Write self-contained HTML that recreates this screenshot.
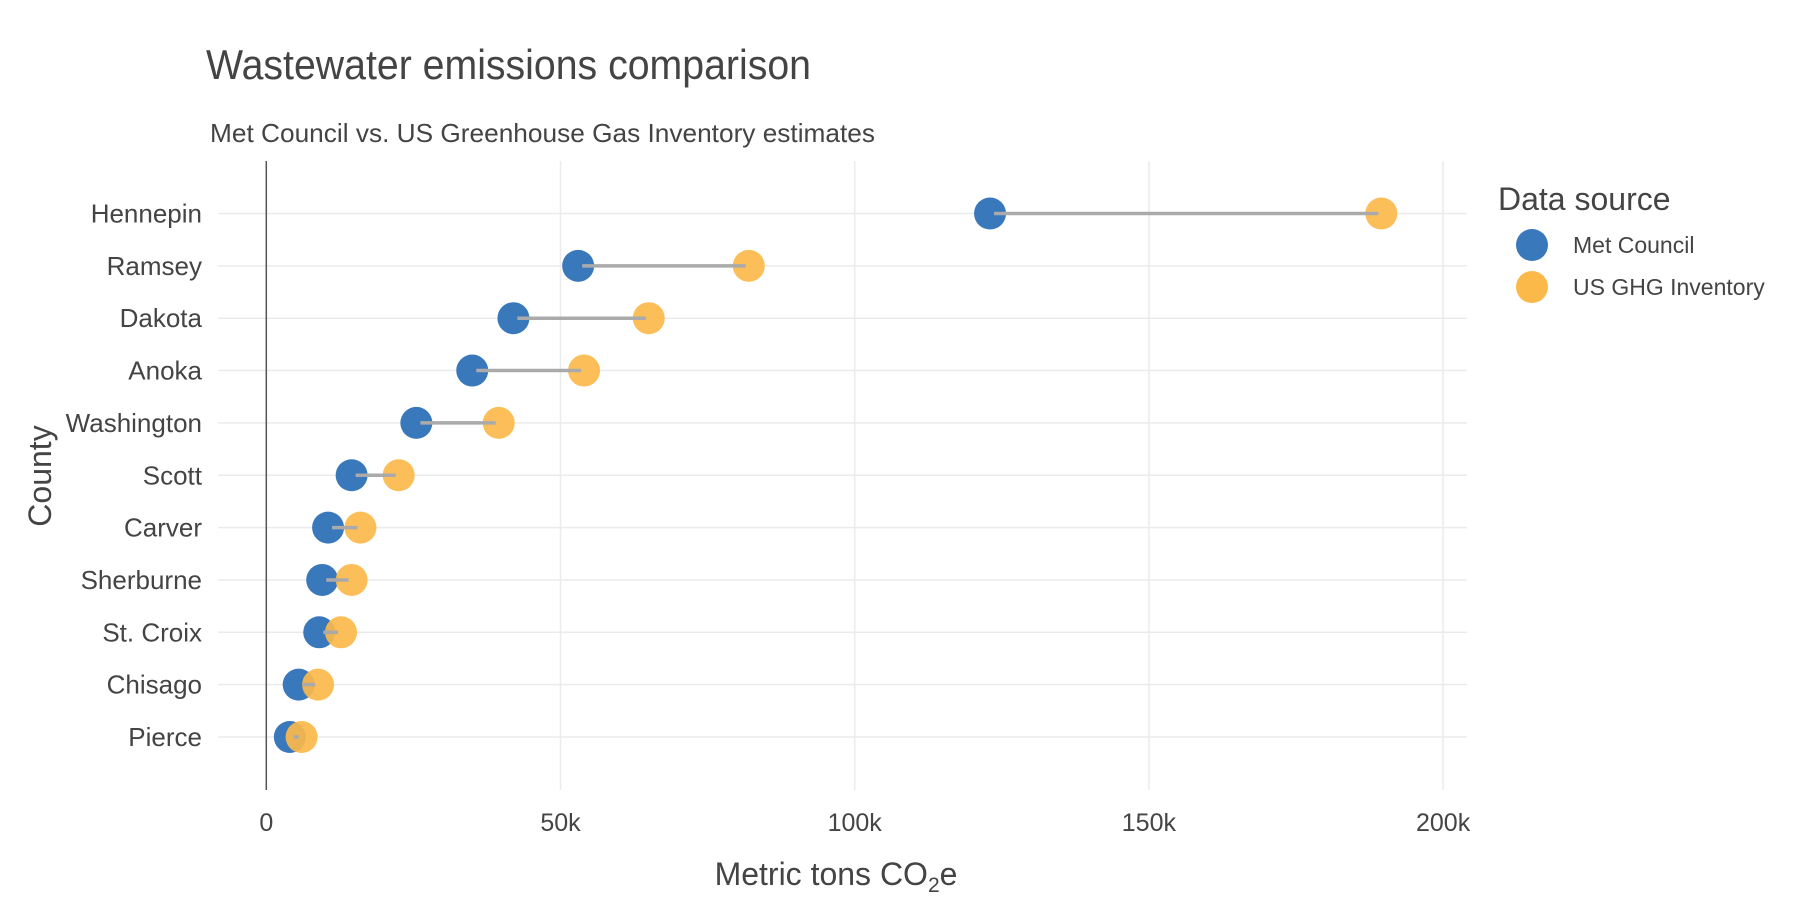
<!DOCTYPE html>
<html><head><meta charset="utf-8"><style>
html,body{margin:0;padding:0;background:#fff}
svg{display:block;font-family:"Liberation Sans",Arial,sans-serif}
</style></head><body>
<svg id="chart" width="1800" height="900" viewBox="0 0 1800 900">
<text x="206" y="79" font-size="42" fill="#444" textLength="605" lengthAdjust="spacingAndGlyphs">Wastewater emissions comparison</text>
<text x="210" y="142" font-size="26" fill="#444" textLength="665" lengthAdjust="spacingAndGlyphs">Met Council vs. US Greenhouse Gas Inventory estimates</text>
<g id="grid"></g>
<line x1="266.3" y1="161" x2="266.3" y2="790" stroke="#555" stroke-width="1.5"/>
<g id="marks"></g>
<g id="ylabels"></g>
<g id="xlabels"></g>
<text x="836" y="885" font-size="32" fill="#444" text-anchor="middle">Metric tons CO<tspan font-size="21" dy="7">2</tspan><tspan dy="-7">e</tspan></text>
<text transform="translate(51,476) rotate(-90)" font-size="32" fill="#444" text-anchor="middle">County</text>
<g>
<text x="1498" y="210" font-size="32" fill="#444">Data source</text>
<circle cx="1532" cy="245" r="16" fill="#3a78bc"/>
<text x="1573" y="253" font-size="23" fill="#444">Met Council</text>
<circle cx="1532" cy="287" r="16" fill="#fbb94a"/>
<text x="1573" y="295" font-size="23" fill="#444">US GHG Inventory</text>
</g>
</svg>
<script>
const counties = ["Hennepin","Ramsey","Dakota","Anoka","Washington","Scott","Carver","Sherburne","St. Croix","Chisago","Pierce"];
const metCouncil = [123000,53000,42000,35000,25500,14500,10500,9500,9000,5500,4000];
const usGhg = [189500,82000,65000,54000,39500,22500,16000,14500,12700,8800,6000];
const xTicks = [0,50000,100000,150000,200000];
const xTickLabels = ["0","50k","100k","150k","200k"];

const NS="http://www.w3.org/2000/svg";
function x(v){return 266.3+v*(294.2/50000);}
function y(i){return 213.5+i*52.35;}
function mk(tag,attrs,parent){const e=document.createElementNS(NS,tag);for(const k in attrs)e.setAttribute(k,attrs[k]);parent.appendChild(e);return e;}
const grid=document.getElementById('grid'),marks=document.getElementById('marks'),yl=document.getElementById('ylabels'),xl=document.getElementById('xlabels');
counties.forEach((c,i)=>{
  const g=mk('line',{x1:218,x2:1467,y1:y(i),y2:y(i),stroke:'#ebebeb','stroke-width':1.5},grid);
  
  
  const t=mk('text',{x:202,y:y(i)+9,'font-size':26,fill:'#444','text-anchor':'end'},yl);
  t.textContent=c;
  
  
});
xTicks.forEach((v,i)=>{
  if(v>0){const g=mk('line',{x1:x(v),x2:x(v),y1:161,y2:790,stroke:'#ebebeb','stroke-width':1.5},grid);
  
  }
  const t=mk('text',{x:x(v),y:831,'font-size':25,fill:'#444','text-anchor':'middle'},xl);
  t.textContent=xTickLabels[i];
  
  
});
counties.forEach((c,i)=>{
  const s=c.toLowerCase().replace(/[^a-z]+/g,'-');
  const a=mk('circle',{cx:x(metCouncil[i]),cy:y(i),r:16,fill:'#3a78bc'},marks);
  
  
});
counties.forEach((c,i)=>{
  const s=c.toLowerCase().replace(/[^a-z]+/g,'-');
  const b=mk('circle',{cx:x(usGhg[i]),cy:y(i),r:16,fill:'#fbb94a','fill-opacity':0.92},marks);
  
  
});
counties.forEach((c,i)=>{
  const s=c.toLowerCase().replace(/[^a-z]+/g,'-');
  const l=mk('line',{x1:x(metCouncil[i])+4,x2:x(usGhg[i])-3,y1:y(i),y2:y(i),stroke:'#aaa','stroke-width':3.5},marks);
  
  
});
</script>
</body></html>
